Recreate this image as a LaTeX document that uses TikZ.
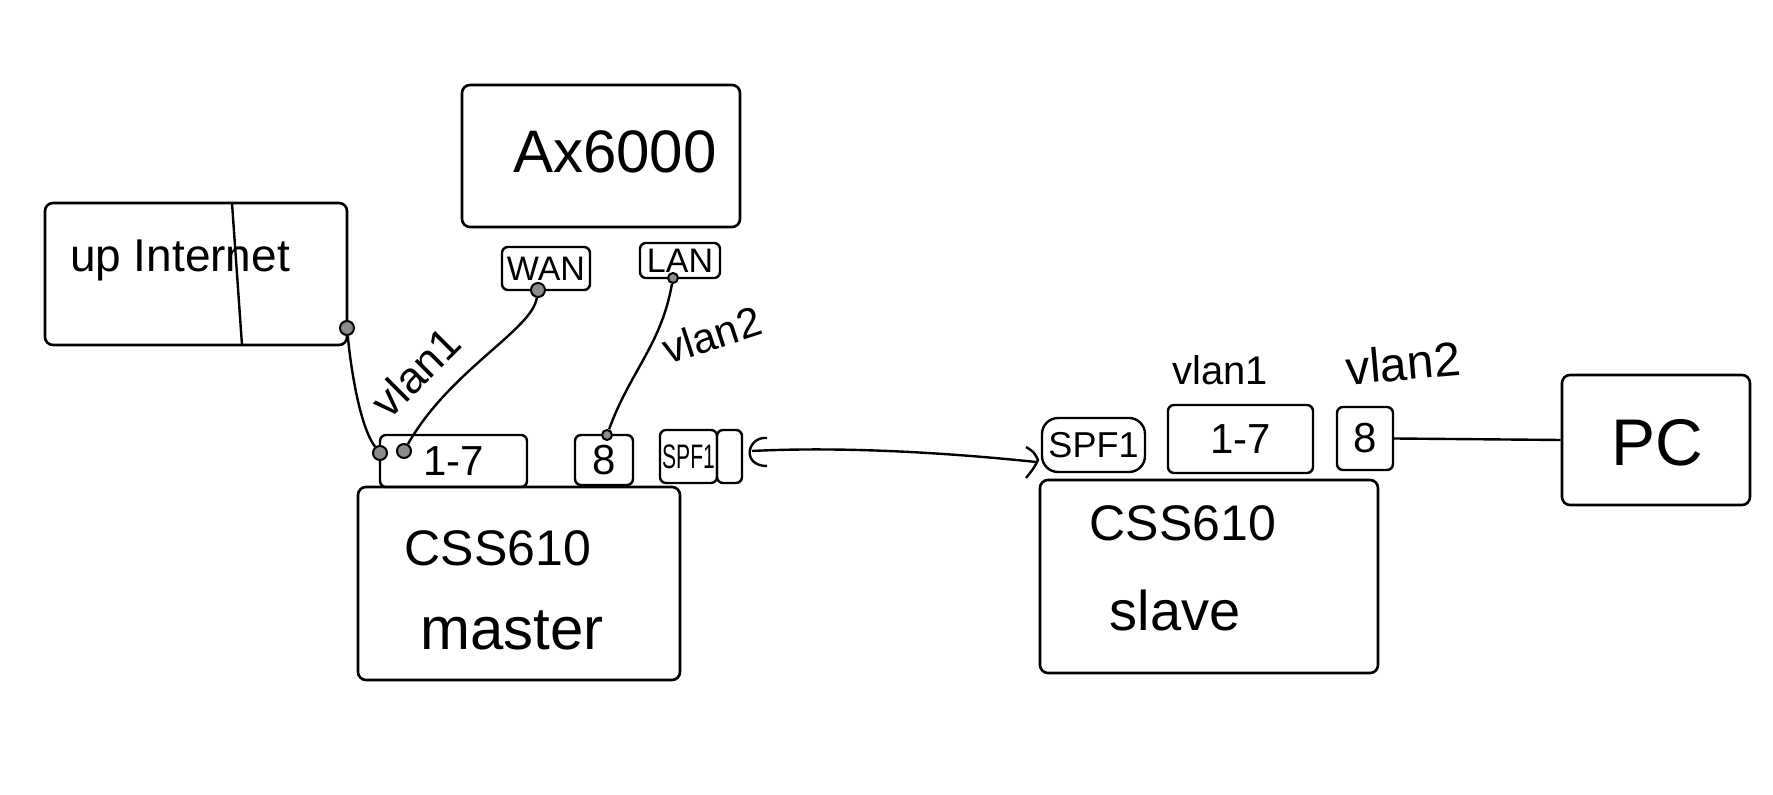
\documentclass[tikz,border=0pt]{standalone}
\usepackage{fontspec}
\setmainfont{Liberation Sans}
\usetikzlibrary{fit}
\begin{document}
\begin{tikzpicture}[x=0.5pt,y=-0.5pt,
  box/.style={draw, line width=1.3pt, rounded corners=4pt, inner sep=0pt},
  port/.style={draw, line width=1.2pt, rounded corners=3pt, inner sep=0pt},
  wire/.style={draw, line width=1.2pt},
  dot/.style={circle, draw, line width=1pt, fill=black!45, minimum size=7pt, inner sep=0pt},
  lbl/.style={inner sep=0pt, font=\fontsize{#1pt}{#1pt}\selectfont}]
\useasboundingbox (0,0) rectangle (1773,795);

% up Internet
\node[box, fit={(45,203) (347,345)}] (up) {};
\draw[wire] (232,203) -- (242,345);
\node[lbl=23] (uptext) at (180,260) {up Internet};
\node[dot] (updot) at (347,328) {};

% Ax6000
\node[box, fit={(462,85) (740,227)}] (ax) {};
\node[lbl=30] (axtext) at (615,152) {Ax6000};
\node[port, fit={(502,247) (590,290)}] (wan) {};
\node[lbl=17] (wantext) at (wan.center) {WAN};
\node[port, fit={(640,243) (720,278)}] (lan) {};
\node[lbl=17] (lantext) at (lan.center) {LAN};
\node[dot] (wandot) at (538,290) {};
\node[dot, minimum size=5pt] (landot) at (673,278) {};

% master
\node[box, fit={(358,487) (680,680)}] (mbody) {};
\node[lbl=25] (mtext1) at (498,548) {CSS610};
\node[lbl=30] (mtext2) at (512,630) {master};
\node[port, fit={(380,435) (527,487)}] (m17) {};
\node[lbl=21] (m17text) at (m17.center) {1-7};
\node[port, fit={(575,435) (633,485)}] (m8) {};
\node[lbl=21] (m8text) at (m8.center) {8};
\node[port, fit={(660,430) (717,483)}] (msfp) {};
\node[lbl=17] (msfptext) at (msfp.center) {\scalebox{0.62}[1]{SPF1}};
\node[port, fit={(717,430) (742,483)}] (mcage) {};
\node[dot] (mdotA) at (380,453) {};
\node[dot] (mdotB) at (404,451) {};
\node[dot, minimum size=5pt] (m8dot) at (607,435) {};
\coordinate (mplug) at (752,451);
\draw[wire] (767,438) .. controls (747,436) and (741,466) .. (767,466);

% slave
\node[box, fit={(1040,480) (1378,673)}] (sbody) {};
\node[lbl=25] (stext1) at (1183,523) {CSS610};
\node[lbl=28] (stext2) at (1175,610) {slave};
\node[port, rounded corners=8pt, fit={(1042,418) (1145,472)}] (ssfp) {};
\node[lbl=18] (ssfptext) at (ssfp.center) {SPF1};
\node[port, fit={(1168,405) (1313,473)}] (s17) {};
\node[lbl=21] (s17text) at (s17.center) {1-7};
\node[port, fit={(1337,407) (1393,470)}] (s8) {};
\node[lbl=21] (s8text) at (s8.center) {8};
\coordinate (sfork) at (1036,462);
\draw[wire] (1026,447) .. controls (1034,452) .. (1038,460) .. controls (1034,468) .. (1026,478);

% PC
\node[box, fit={(1562,375) (1750,505)}] (pc) {};
\node[lbl=33] (pctext) at (1657,443) {PC};

% vlan labels
\node[lbl=22, rotate=45] (v1m) at (416,372) {vlan1};
\node[lbl=21, rotate=18] (v2m) at (712,335) {vlan2};
\node[lbl=20] (v1s) at (1220,370) {vlan1};
\node[lbl=24, rotate=5] (v2s) at (1403,363) {vlan2};

% connectors
\draw[wire] (updot) .. controls (352,380) and (362,430) .. (mdotA);
\draw[wire] (wandot) .. controls (532,330) and (450,370) .. (mdotB);
\draw[wire] (landot) to[out=-100,in=70] (m8dot);
\draw[wire] (mplug) .. controls (850,446) and (960,454) .. (sfork);
\draw[wire] (s8.east) -- (pc.west);
\end{tikzpicture}
\end{document}
